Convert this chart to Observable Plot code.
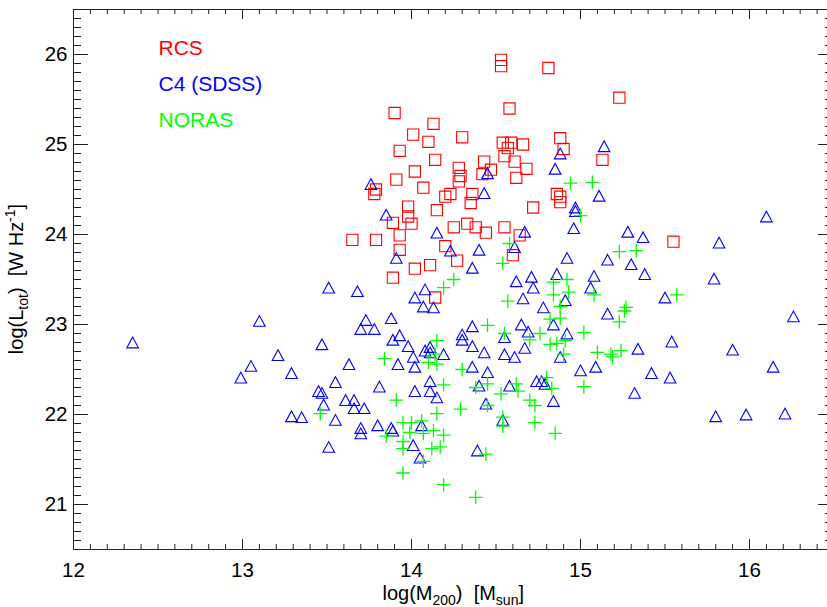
<!DOCTYPE html>
<html><head><meta charset="utf-8">
<script src="https://cdn.jsdelivr.net/npm/d3@7"></script>
<script src="https://cdn.jsdelivr.net/npm/@observablehq/plot@0.6"></script>
<style>html,body{margin:0;padding:0;background:#fff} svg{display:block}</style>
</head><body><div id="chart"></div>
<script>
// ---- data (log M200 [Msun], log Ltot [W/Hz]) ----
const rcsMass = [14.53,14.53,14.81,14.58,13.90,14.13,14.01,14.10,14.30,13.93,14.14,14.02,13.91,14.07,14.28,14.29,14.28,14.43,14.42,14.47,14.54,14.59,14.57,14.55,14.66,14.61,14.68,14.62,14.88,14.90,14.86,14.88,13.79,13.78,14.23,14.20,14.36,14.35,13.98,14.88,14.72,13.98,14.15,13.89,14.00,13.93,13.93,13.65,13.79,14.25,14.33,14.38,14.44,14.55,14.64,14.20,14.27,14.60,14.02,14.11,13.89,14.14,15.23,15.13,15.55];
const rcsLum = [25.94,25.87,25.85,25.40,25.35,25.23,25.11,25.03,25.08,24.93,24.83,24.70,24.61,24.52,24.74,24.65,24.59,24.81,24.67,24.72,25.02,25.02,24.96,24.87,25.00,24.81,24.73,24.63,25.07,24.95,24.45,24.42,24.50,24.45,24.45,24.42,24.45,24.35,24.31,24.36,24.30,24.20,24.27,24.13,24.12,23.99,23.83,23.94,23.94,24.08,24.12,24.08,24.02,24.08,23.99,23.87,23.71,23.77,23.62,23.66,23.52,23.30,25.52,24.83,23.92];

const c4Mass = [14.88,14.85,14.45,14.43,13.76,15.14,15.11,13.51,13.10,12.35,13.47,13.21,13.85,14.15,14.67,14.97,14.97,14.96,14.23,14.40,14.61,13.91,14.36,14.92,14.86,14.62,14.71,14.72,14.66,14.78,14.91,13.68,14.08,14.02,14.07,14.13,13.73,13.70,13.78,13.88,13.89,13.93,13.98,14.36,14.30,14.30,14.36,14.43,14.55,14.55,14.65,14.69,14.67,14.84,14.92,14.08,14.11,14.11,14.19,14.61,14.88,14.01,15.28,15.37,16.10,15.82,15.16,15.30,15.38,15.08,15.06,15.79,15.50,15.16,16.26,15.54,15.34,15.90,13.05,12.99,13.29,13.55,13.63,13.45,13.47,13.48,13.61,13.29,13.35,13.55,13.51,13.92,14.02,14.36,14.45,15.00,13.81,14.02,14.11,14.11,14.15,14.40,14.58,14.74,14.77,14.79,14.84,14.44,14.54,13.66,13.66,13.72,13.80,13.70,13.70,13.88,13.89,14.06,14.01,14.05,14.39,15.09,15.42,15.53,15.32,16.14,15.80,15.98,16.21];
const c4Lum = [24.90,24.73,24.68,24.46,24.56,24.98,24.43,23.41,23.04,22.80,22.78,22.66,24.22,24.02,24.03,24.30,24.26,24.07,23.82,23.83,23.86,23.74,23.63,23.74,23.56,23.48,23.53,23.41,23.29,23.19,23.27,23.37,23.39,23.30,23.20,23.19,23.05,22.95,22.95,23.07,22.83,22.88,22.76,22.98,22.89,22.83,22.76,22.69,22.86,22.67,23.00,22.92,22.74,23.00,22.90,22.71,22.75,22.69,22.67,22.64,22.64,22.64,24.03,23.97,24.20,23.91,23.72,23.67,23.56,23.54,23.41,23.51,23.30,23.12,23.09,22.81,22.73,22.72,22.54,22.41,22.46,22.36,22.56,22.26,22.24,22.11,22.16,21.98,21.97,21.94,21.64,22.56,22.53,22.53,22.47,22.49,22.31,22.26,22.37,22.26,22.19,22.32,22.32,22.37,22.37,22.34,22.15,22.12,21.94,22.16,22.07,22.07,21.88,21.85,21.79,21.85,21.82,21.88,21.66,21.52,21.60,22.53,22.46,22.41,22.24,22.53,21.98,22.00,22.01];

const norasMass = [14.94,15.07,14.58,14.54,14.25,14.19,14.57,14.84,14.92,14.93,14.84,14.88,14.82,14.88,14.45,14.55,14.76,14.70,14.82,14.86,14.91,14.90,14.15,14.14,15.00,15.23,15.33,15.08,15.57,15.27,15.26,15.23,15.02,15.10,15.18,15.19,15.24,13.46,13.84,14.10,14.15,14.30,14.19,14.38,14.45,14.53,14.62,14.63,14.80,14.83,13.91,14.29,14.15,14.70,14.73,14.45,14.54,14.54,14.73,14.85,13.95,14.00,14.06,13.99,14.07,14.13,14.19,13.85,13.95,13.95,14.12,14.17,14.07,14.44,13.95,14.19,14.38,15.02];
const norasLum = [24.57,24.58,23.90,23.68,23.50,23.41,23.26,23.47,23.50,23.36,23.33,23.20,23.06,23.07,22.99,22.90,22.90,22.83,22.78,22.79,22.82,22.67,22.82,22.67,24.21,23.81,23.82,23.33,23.33,23.19,23.15,23.03,22.91,22.69,22.67,22.64,22.71,22.01,22.62,22.58,22.56,22.50,22.33,22.30,22.34,22.23,22.34,22.26,22.41,22.29,22.16,22.06,22.01,22.16,22.10,22.10,21.97,21.87,21.91,21.79,21.91,21.91,21.93,21.80,21.79,21.82,21.77,21.76,21.70,21.62,21.62,21.64,21.48,21.56,21.35,21.22,21.08,22.31];

const seriesNames = ["RCS", "C4 (SDSS)", "NORAS"];
const xTicks = [12, 13, 14, 15, 16];
const yTicks = [21, 22, 23, 24, 25, 26];
const xDomain = [12, 16.5];
const yDomain = [20.5, 26.5];

// ---- styles ----
const colors = ["#ff0000", "#0000ff", "#00ff00"];
const FONT = "'Liberation Sans', Arial, Helvetica, sans-serif";
const W = 827, H = 607, mL = 73, mT = 9, mB = 58, mR = 0;
const frameW = W - mL - mR, frameH = H - mT - mB;
const pxPerX = 169;

const toRows = (xs, ys) => xs.map((x, i) => ({x, y: ys[i]}));
const rcs = toRows(rcsMass, rcsLum);
const c4 = toRows(c4Mass, c4Lum);
const noras = toRows(norasMass, norasLum);

// IDL-like open symbols
const rOf = size => Math.sqrt(size / Math.PI);
const squareSym = {draw(c, size) { const h = rOf(size); c.moveTo(-h, -h); c.lineTo(h, -h); c.lineTo(h, h); c.lineTo(-h, h); c.closePath(); }};
const triSym = {draw(c, size) { const h = rOf(size); c.moveTo(-h, h * 0.92); c.lineTo(0, -h * 0.92); c.lineTo(h, h * 0.92); c.closePath(); }};
const plusSym = {draw(c, size) { const h = rOf(size); c.moveTo(-h, 0); c.lineTo(h, 0); c.moveTo(0, -h); c.lineTo(0, h); }};

const minorX = d3.range(120, 166).map(v => v / 10).filter(v => !xTicks.includes(v));
const minorY = d3.range(205, 266).map(v => v / 10).filter(v => !yTicks.includes(v));

const axisColor = "#222";
const chart = Plot.plot({
  width: W, height: H,
  marginLeft: mL, marginRight: mR, marginTop: mT, marginBottom: mB,
  style: {fontFamily: FONT, fontSize: "20.5px", background: "#fff", color: "#000"},
  x: {domain: xDomain, range: [mL, mL + (xDomain[1] - xDomain[0]) * pxPerX]},
  y: {domain: yDomain},
  marks: [
    // frame lines (right edge lies just outside the picture)
    Plot.ruleY([yDomain[0], yDomain[1]], {y: d => d, stroke: axisColor, strokeWidth: 1}),
    Plot.ruleX([xDomain[0]], {x: d => d, stroke: axisColor, strokeWidth: 1}),
    // x ticks bottom & top
    Plot.ruleX(xTicks, {x: d => d, insetTop: frameH - 10, stroke: axisColor}),
    Plot.ruleX(minorX, {x: d => d, insetTop: frameH - 5, stroke: axisColor}),
    Plot.ruleX(xTicks, {x: d => d, insetBottom: frameH - 10, stroke: axisColor}),
    Plot.ruleX(minorX, {x: d => d, insetBottom: frameH - 5, stroke: axisColor}),
    // y ticks left & right
    Plot.ruleY(yTicks, {y: d => d, insetRight: frameW - 15, stroke: axisColor}),
    Plot.ruleY(minorY, {y: d => d, insetRight: frameW - 8, stroke: axisColor}),
    Plot.ruleY(yTicks, {y: d => d, insetLeft: frameW - 9, stroke: axisColor}),
    Plot.ruleY(minorY, {y: d => d, insetLeft: frameW - 2, stroke: axisColor}),
    // tick labels
    Plot.axisX({ticks: xTicks, tickSize: 0, tickPadding: 13, tickFormat: d => String(d), label: null}),
    Plot.axisY({ticks: yTicks, tickSize: 0, tickPadding: 6, tickFormat: d => String(d), label: null}),
    // data
    Plot.dot(rcs, {x: "x", y: "y", symbol: squareSym, r: 5.6, stroke: colors[0], fill: "none", strokeWidth: 1.1}),
    Plot.dot(c4, {x: "x", y: "y", symbol: triSym, r: 5.8, stroke: colors[1], fill: "none", strokeWidth: 1.1}),
    Plot.dot(noras, {x: "x", y: "y", symbol: plusSym, r: 6.8, stroke: colors[2], fill: "none", strokeWidth: 1.3}),
    // legend
    ...seriesNames.map((name, i) => Plot.text([name], {
      text: d => d, frameAnchor: "top-left", dx: 85, dy: 45 + 36 * i,
      textAnchor: "start", lineAnchor: "bottom", fill: colors[i], fontSize: 21
    }))
  ]
});

// axis titles with sub/superscripts
const svg = d3.select(chart);
const xt = svg.append("text")
  .attr("x", mL + ((xDomain[1] - xDomain[0]) * pxPerX) / 2).attr("y", 600)
  .attr("text-anchor", "middle").attr("font-family", FONT).attr("font-size", 20)
  .attr("fill", "#000").style("white-space", "pre");
xt.append("tspan").text("log(M");
xt.append("tspan").attr("dy", 5).attr("font-size", 14).text("200");
xt.append("tspan").attr("dy", -5).text(")  [M");
xt.append("tspan").attr("dy", 5).attr("font-size", 14).text("sun");
xt.append("tspan").attr("dy", -5).text("]");

const yt = svg.append("text")
  .attr("transform", `translate(23,${mT + frameH / 2}) rotate(-90)`)
  .attr("text-anchor", "middle").attr("font-family", FONT).attr("font-size", 20)
  .attr("fill", "#000").style("white-space", "pre");
yt.append("tspan").text("log(L");
yt.append("tspan").attr("dy", 5).attr("font-size", 14).text("tot");
yt.append("tspan").attr("dy", -5).text(")  [W Hz");
yt.append("tspan").attr("dy", -8).attr("font-size", 14).text("-1");
yt.append("tspan").attr("dy", 8).text("]");

document.getElementById("chart").appendChild(chart);
</script>
</body></html>
